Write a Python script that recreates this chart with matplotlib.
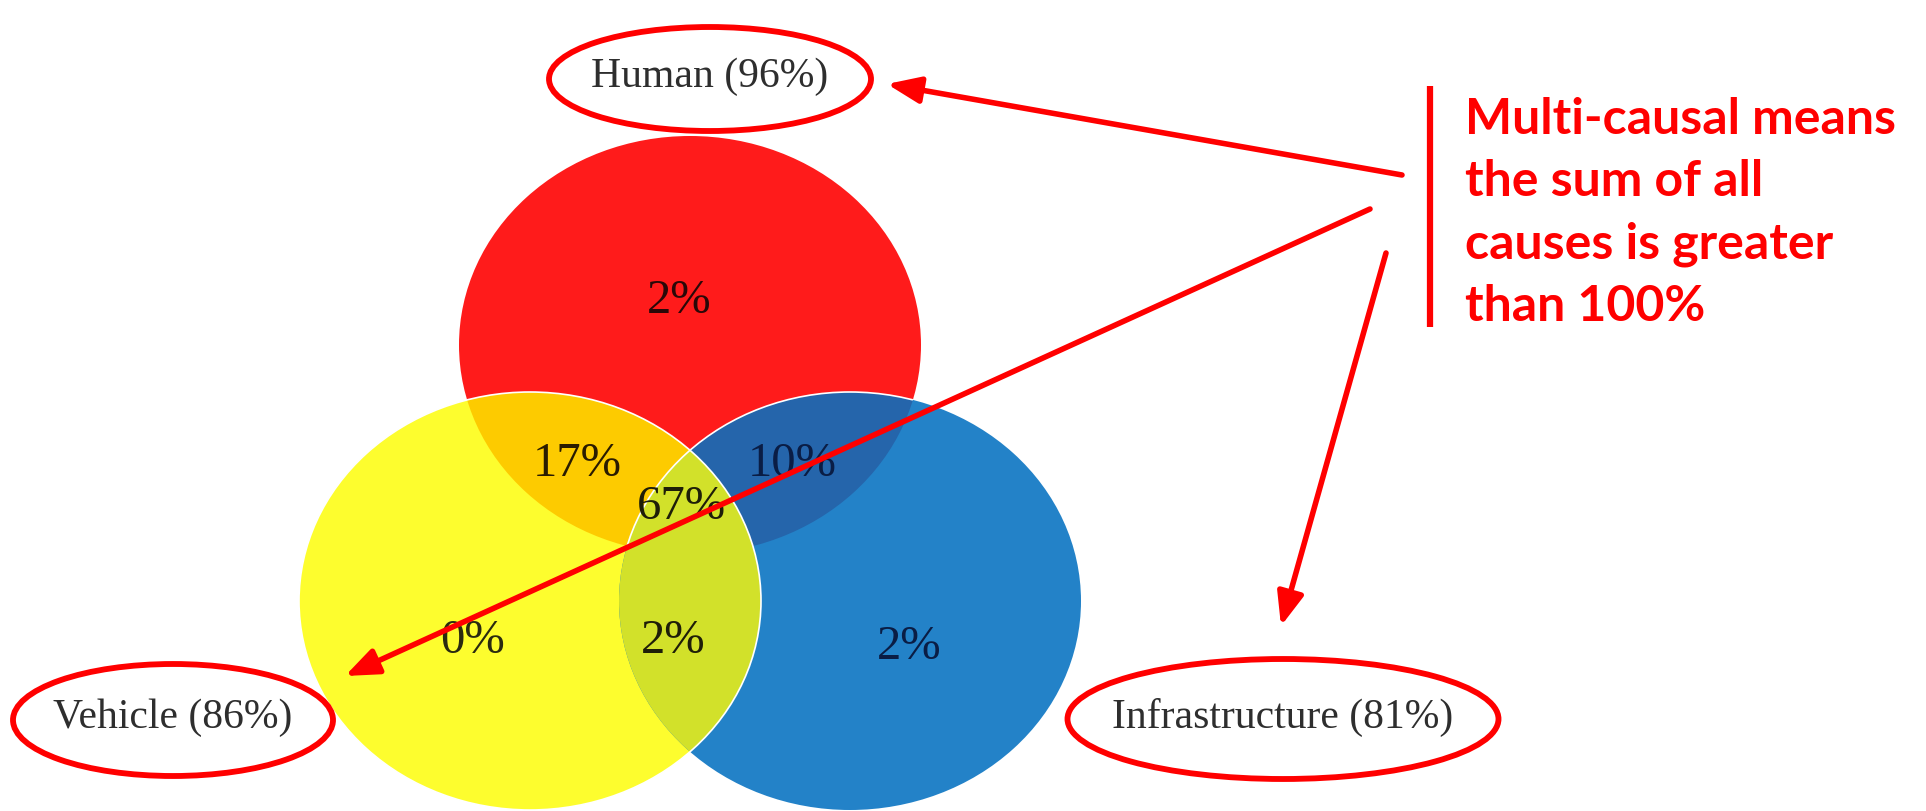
import matplotlib
matplotlib.use("Agg")
import matplotlib.pyplot as plt
from matplotlib.patches import Ellipse

# data
set_names = ["Human", "Vehicle", "Infrastructure"]
set_totals = [96, 86, 81]
# region shares: H only, H&V, H&I, H&V&I, V only, V&I, I only
region_values = [2, 17, 10, 67, 0, 2, 2]
note_lines = ["Multi-causal means", "the sum of all", "causes is greater", "than 100%"]

# layout (pixel space, y down)
circle_xy = [(690, 346), (530, 602), (850, 602)]
circle_w, circle_h = 462, 418
fill_cols = ["#ff1b1b", "#fdfd2e", "#2382c8"]
col_hv = "#fdcb00"
col_hi = "#2565ab"
col_vi = "#d2e12a"
region_xy = [(679, 301), (577, 464), (792, 464), (681, 507), (473, 641), (673, 641), (909, 647)]
region_txtcol = ["#2a0808", "#2a1c00", "#0a1d45", "#1e1e08", "#2a2a10", "#1e1e08", "#0a1d45"]
label_xy = [(710, 77), (173, 718), (1283, 717)]
ring_wh = [(322, 104), (320, 112), (431, 120)]

fig = plt.figure(figsize=(19.26, 8.12), dpi=100)
ax = fig.add_axes([0, 0, 1, 1])
ax.set_xlim(0, 1926)
ax.set_ylim(812, 0)
ax.axis("off")

def ell(i, **kw):
    return Ellipse(circle_xy[i], circle_w, circle_h, **kw)

# base circles
for i in range(3):
    ax.add_patch(ell(i, facecolor=fill_cols[i], edgecolor="none", zorder=1))

# overlaps via clipping
pairs = [(1, 0, col_hv), (2, 0, col_hi), (2, 1, col_vi)]
for a, b, c in pairs:
    p = ell(a, facecolor=c, edgecolor="none", zorder=2)
    ax.add_patch(p)
    clip = ell(b, transform=ax.transData)
    p.set_clip_path(clip)

# thin white rims
rim_b = ell(2, facecolor="none", edgecolor="white", lw=1.2, zorder=3)
ax.add_patch(rim_b)
rim_b.set_clip_path(ell(0, transform=ax.transData))
ax.add_patch(ell(1, facecolor="none", edgecolor="white", lw=1.2, zorder=3))

for v, (x, y), tc in zip(region_values, region_xy, region_txtcol):
    ax.text(x, y, f"{v}%", ha="center", va="center", fontsize=35,
            family="Liberation Serif", color=tc, zorder=5)

# set labels with red rings
for name, tot, (x, y), (w, h) in zip(set_names, set_totals, label_xy, ring_wh):
    ax.text(x, y, f"{name} ({tot}%)", ha="center", va="center", fontsize=30,
            family="Liberation Serif", color="#2e2e2e", zorder=5)
    ax.add_patch(Ellipse((x, y + 3), w, h, facecolor="none", edgecolor="#ff0000",
                         lw=4.2, zorder=6))

# note text and bar
ax.plot([1430, 1430], [87, 328], color="#ff0000", lw=4.5, solid_capstyle="butt", zorder=6)
ax.text(1465, 213, "\n".join(note_lines), ha="left", va="center", fontsize=36,
        family="Lato", weight="bold", color="#ff0000", linespacing=1.47, zorder=6)

# arrows
arrows = [((1402, 176), (887, 85)), ((1370, 210), (345, 677)), ((1386, 254), (1281, 627))]
for (x0, y0), (x1, y1) in arrows:
    ax.annotate("", xy=(x1, y1), xytext=(x0, y0),
                arrowprops=dict(arrowstyle="-|>,head_length=1.0,head_width=0.4",
                                color="#ff0000", lw=4, shrinkA=0, shrinkB=0,
                                mutation_scale=20),
                zorder=7)

plt.savefig("out.png", dpi=100)
